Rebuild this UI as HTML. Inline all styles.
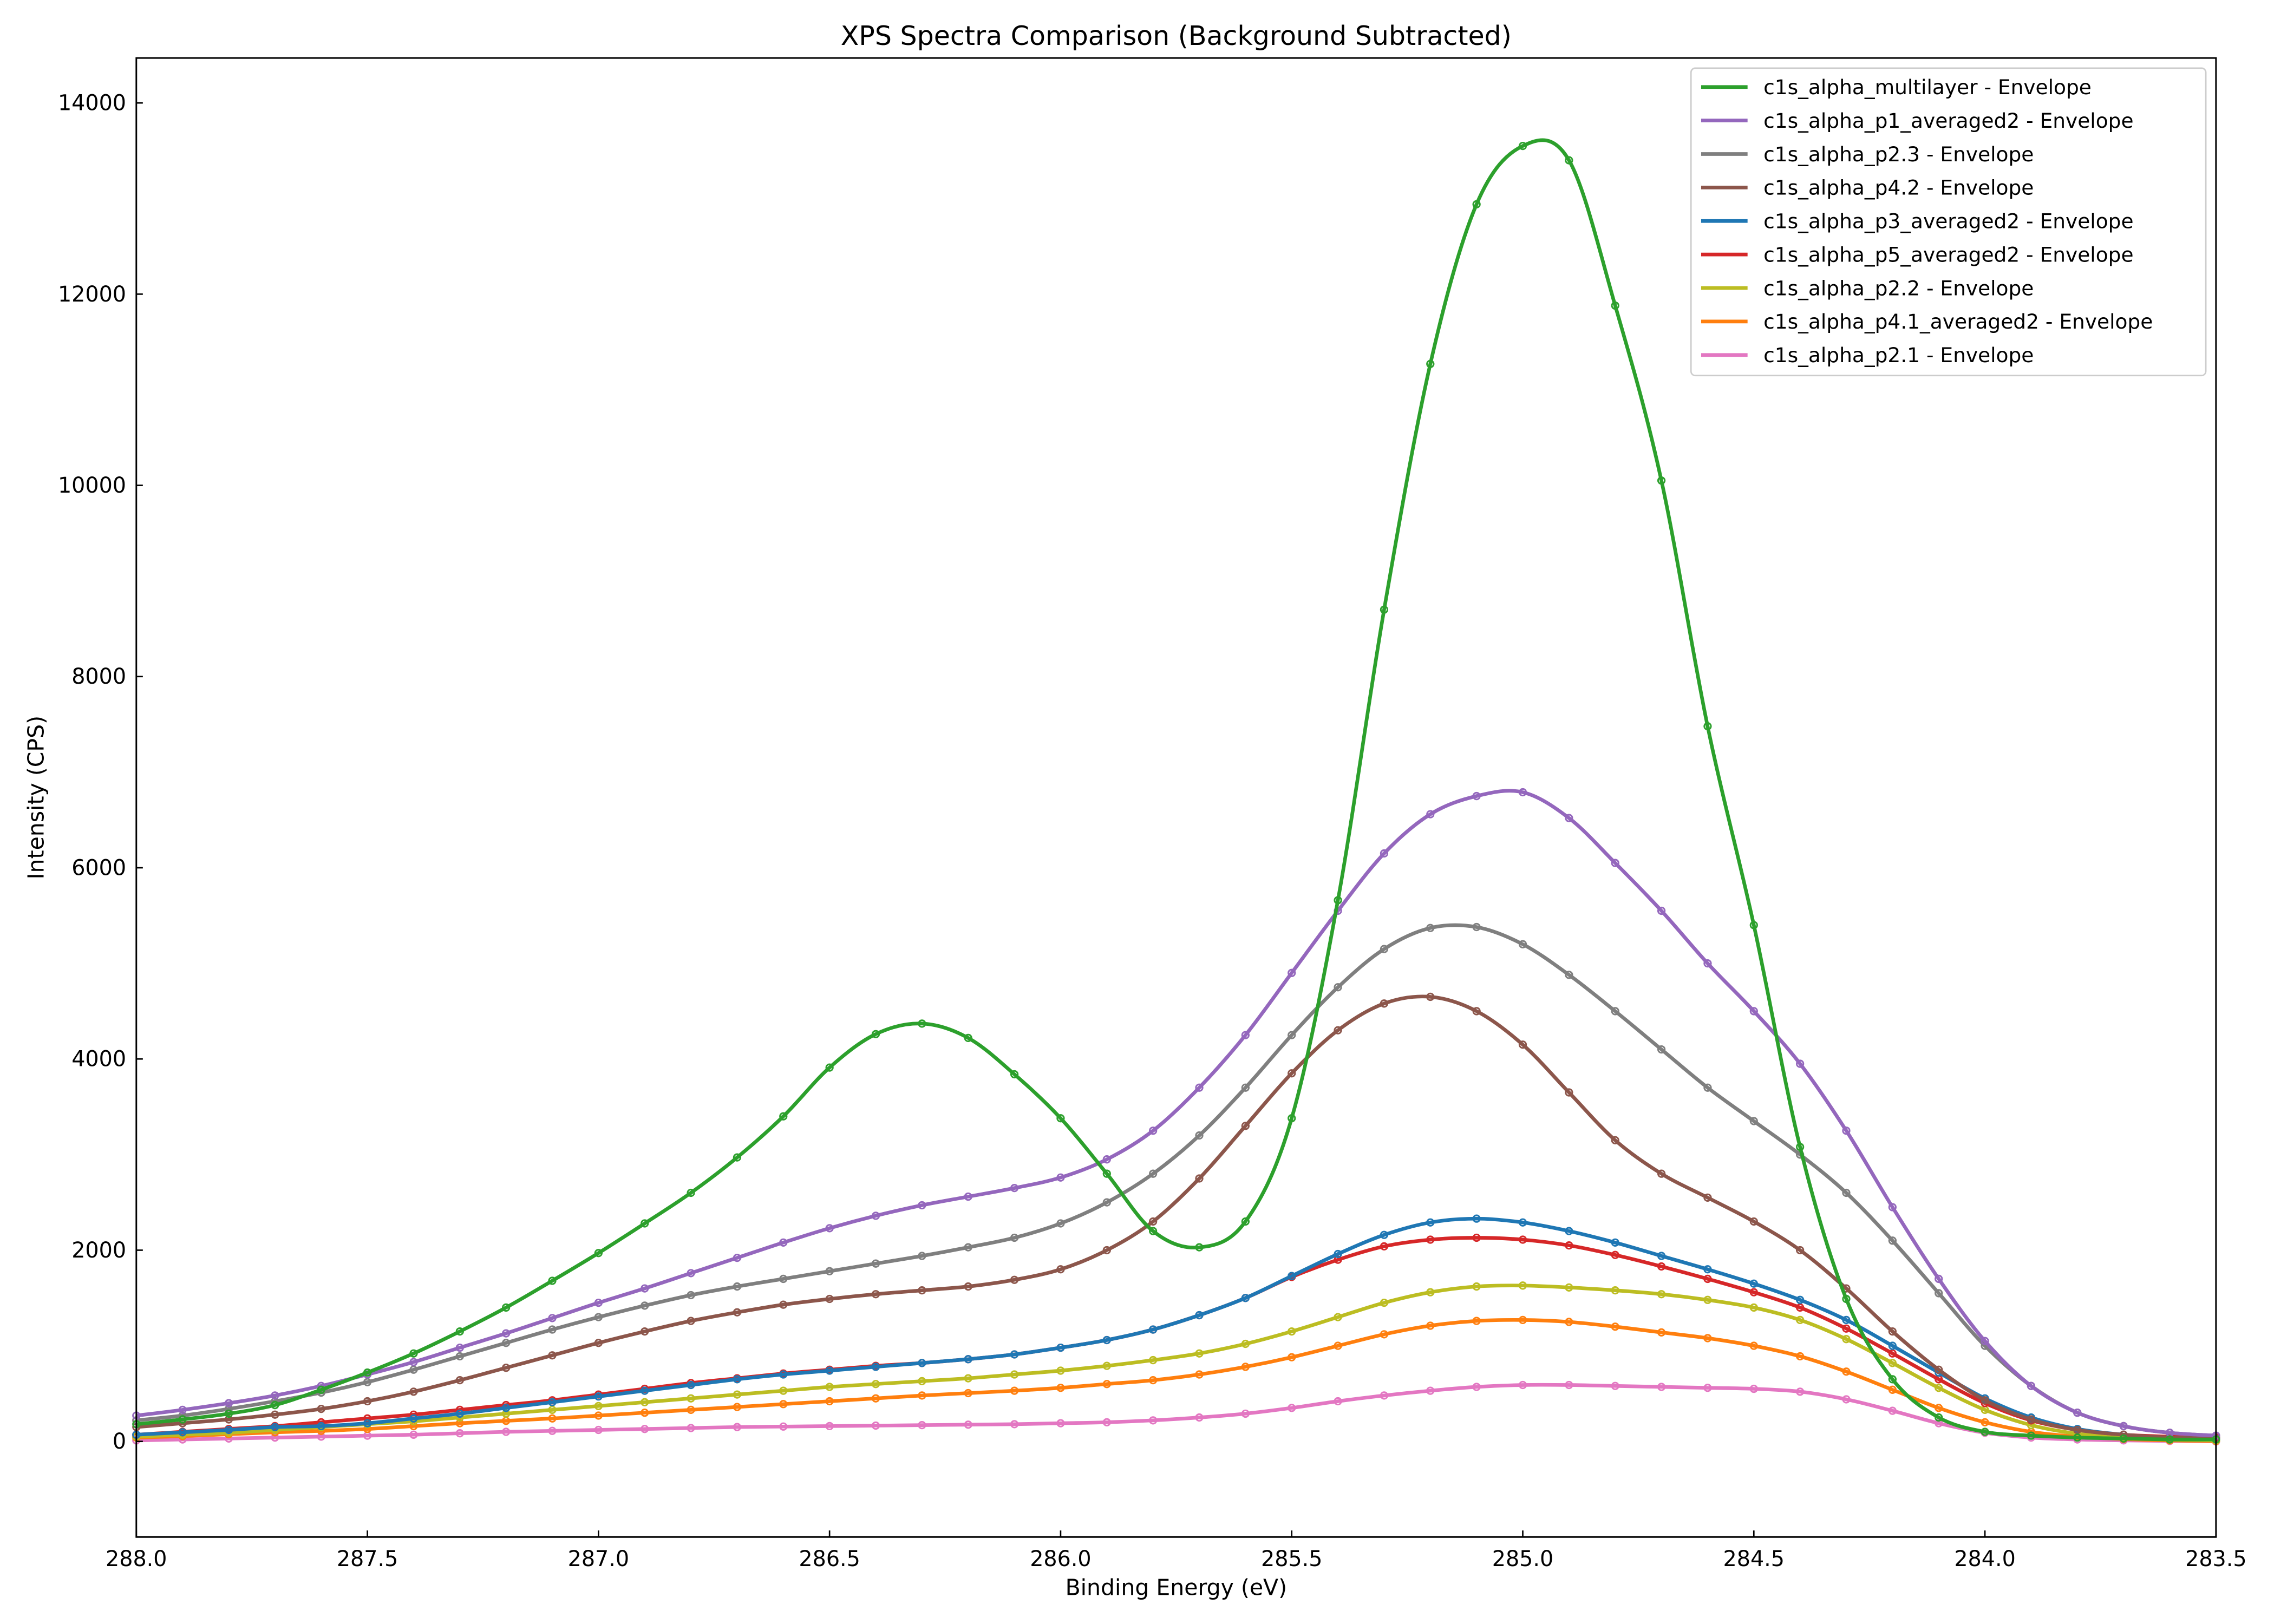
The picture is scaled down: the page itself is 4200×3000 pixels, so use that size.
<!DOCTYPE html>
<html><head><meta charset="utf-8">
<style>
html,body{margin:0;padding:0;background:#fff;}
svg{display:block;font-family:"DejaVu Sans","Liberation Sans",sans-serif;}
</style></head>
<body>
<svg id="chart" width="4200" height="3000" viewBox="0 0 1568 1120" xmlns="http://www.w3.org/2000/svg">
<rect x="0" y="0" width="1568" height="1120" fill="#fff"/>
<text x="811" y="31" text-anchor="middle" font-size="18.3">XPS Spectra Comparison (Background Subtracted)</text>
<text x="811" y="1100" text-anchor="middle" font-size="15.3">Binding Energy (eV)</text>
<text x="30" y="550" text-anchor="middle" font-size="15.3" transform="rotate(-90 30 550)">Intensity (CPS)</text>
<g id="plot"></g>
<g id="ticks"></g>
<rect x="94" y="40" width="1434" height="1020" fill="none" stroke="#000" stroke-width="1.1"/>
<g id="legend"></g>
</svg>
<script>
const energies = [288.0,287.9,287.8,287.7,287.6,287.5,287.4,287.3,287.2,287.1,287.0,286.9,286.8,286.7,286.6,286.5,286.4,286.3,286.2,286.1,286.0,285.9,285.8,285.7,285.6,285.5,285.4,285.3,285.2,285.1,285.0,284.9,284.8,284.7,284.6,284.5,284.4,284.3,284.2,284.1,284.0,283.9,283.8,283.7,283.6,283.5];
const seriesNames = ["c1s_alpha_multilayer - Envelope","c1s_alpha_p1_averaged2 - Envelope","c1s_alpha_p2.3 - Envelope","c1s_alpha_p4.2 - Envelope","c1s_alpha_p3_averaged2 - Envelope","c1s_alpha_p5_averaged2 - Envelope","c1s_alpha_p2.2 - Envelope","c1s_alpha_p4.1_averaged2 - Envelope","c1s_alpha_p2.1 - Envelope"];
const seriesColors = ["#2ca02c","#9467bd","#7f7f7f","#8c564b","#1f77b4","#d62728","#bcbd22","#ff7f0e","#e377c2"];
const multilayer = [180,230,290,380,540,720,920,1150,1400,1680,1970,2280,2600,2970,3400,3910,4260,4370,4220,3840,3380,2800,2200,2030,2300,3380,5660,8700,11270,12940,13550,13400,11880,10050,7480,5400,3080,1490,650,250,100,60,40,30,20,20];
const p1 = [270,330,400,480,580,700,830,980,1130,1290,1450,1600,1760,1920,2080,2230,2360,2470,2560,2650,2760,2950,3250,3700,4250,4900,5550,6150,6560,6750,6790,6520,6050,5550,5000,4500,3950,3250,2450,1700,1050,580,300,160,90,60];
const p23 = [220,270,340,420,510,620,750,890,1030,1170,1300,1420,1530,1620,1700,1780,1860,1940,2030,2130,2280,2500,2800,3200,3700,4250,4750,5150,5370,5380,5200,4880,4500,4100,3700,3350,3000,2600,2100,1550,1000,580,300,160,90,60];
const p42 = [150,190,230,280,340,420,520,640,770,900,1030,1150,1260,1350,1430,1490,1540,1580,1620,1690,1800,2000,2300,2750,3300,3850,4300,4580,4650,4500,4150,3650,3150,2800,2550,2300,2000,1600,1150,750,430,230,120,70,40,30];
const p3 = [70,95,120,150,160,190,240,290,350,410,470,530,590,650,700,740,780,820,860,910,980,1060,1170,1320,1500,1730,1960,2160,2290,2330,2290,2200,2080,1940,1800,1650,1480,1270,1000,720,450,250,130,70,40,30];
const p5 = [70,100,130,160,200,240,280,330,380,430,490,550,610,660,710,750,790,820,860,910,980,1060,1170,1320,1500,1720,1900,2040,2110,2130,2110,2050,1950,1830,1700,1560,1400,1180,920,650,400,220,120,70,50,40];
const p22 = [50,70,90,120,150,180,210,250,290,330,370,410,450,490,530,570,600,630,660,700,740,790,850,920,1020,1150,1300,1450,1560,1620,1630,1610,1580,1540,1480,1400,1270,1070,820,560,330,170,80,40,20,10];
const p41 = [40,55,75,95,110,130,160,190,215,240,270,300,330,360,390,420,450,480,505,530,560,600,640,700,780,880,1000,1120,1210,1260,1270,1250,1200,1140,1080,1000,890,730,540,350,200,100,50,25,10,5];
const p21 = [10,20,30,40,50,60,70,85,100,110,120,130,140,150,155,160,165,170,175,180,190,200,220,250,290,350,420,480,530,570,590,590,580,570,560,550,520,440,320,190,90,40,20,10,5,0];
const allSeries = [multilayer,p1,p23,p42,p3,p5,p22,p41,p21];
const xTicks = [288.0,287.5,287.0,286.5,286.0,285.5,285.0,284.5,284.0,283.5];
const yTicks = [0,2000,4000,6000,8000,10000,12000,14000];

const NS="http://www.w3.org/2000/svg";
const X0=94,X1=1528,Y0=1060,Y1=40, xMin=288.0,xMax=283.5, yMin=-1000, yMax=14470;
function xs(v){return X0+(v-xMin)/(xMax-xMin)*(X1-X0);}
function ys(v){return Y0-(v-yMin)/(yMax-yMin)*(Y0-Y1);}
function mk(tag,attrs,parent){const e=document.createElementNS(NS,tag);for(const k in attrs)e.setAttribute(k,attrs[k]);parent.appendChild(e);return e;}

const ticks=document.getElementById('ticks');
xTicks.forEach(t=>{
  const x=xs(t);
  const l=mk('line',{x1:x,x2:x,y1:Y0,y2:Y0-4.5,stroke:'#000','stroke-width':1},ticks);
  
  
  const tx=mk('text',{x:x,y:Y0+20,'text-anchor':'middle','font-size':14.8},ticks);
  tx.textContent=t.toFixed(1);
  
  
});
yTicks.forEach(t=>{
  const y=ys(t);
  const l=mk('line',{x1:X0,x2:X0+4.5,y1:y,y2:y,stroke:'#000','stroke-width':1},ticks);
  
  
  const tx=mk('text',{x:X0-7,y:y+5,'text-anchor':'end','font-size':14.8},ticks);
  tx.textContent=String(t);
  
  
});

const plot=document.getElementById('plot');
function smoothPath(pts){
  let d='M'+pts[0][0]+','+pts[0][1];
  for(let i=0;i<pts.length-1;i++){
    const p0=pts[Math.max(0,i-1)],p1=pts[i],p2=pts[i+1],p3=pts[Math.min(pts.length-1,i+2)];
    const c1x=p1[0]+(p2[0]-p0[0])/6,c1y=p1[1]+(p2[1]-p0[1])/6;
    const c2x=p2[0]-(p3[0]-p1[0])/6,c2y=p2[1]-(p3[1]-p1[1])/6;
    d+=' C'+c1x+','+c1y+' '+c2x+','+c2y+' '+p2[0]+','+p2[1];
  }
  return d;
}
for(let s=allSeries.length-1;s>=0;s--){
  const g=mk('g',{},plot);
  
  
  const pts=energies.map((e,i)=>[xs(e),ys(allSeries[s][i])]);
  pts.forEach(p=>{
    const c=mk('circle',{cx:p[0],cy:p[1],r:2.3,fill:'none',stroke:seriesColors[s],'stroke-width':1.1},g);
    
    
  });
  const path=mk('path',{d:smoothPath(pts),fill:'none',stroke:seriesColors[s],'stroke-width':2.5},g);
  
  
}

const lg=document.getElementById('legend');
const box=mk('rect',{x:1166,y:47,width:355,height:212,fill:'#fff','fill-opacity':0.8,stroke:'#ccc','stroke-width':1,rx:3},lg);


seriesNames.forEach((n,i)=>{
  const y=60+i*23.1;
  const l=mk('line',{x1:1173,x2:1205,y1:y,y2:y,stroke:seriesColors[i],'stroke-width':2.5},lg);
  
  
  const t=mk('text',{x:1216,y:y+5,'font-size':14},lg);
  t.textContent=n;
  
  
});
</script>
</body></html>
